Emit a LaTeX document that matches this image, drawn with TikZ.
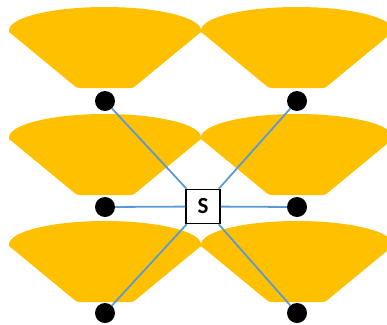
\documentclass[tikz,border=0pt]{standalone}
\usepackage{fontspec}
\newfontfamily\labelfont{Carlito}
\definecolor{fangold}{HTML}{FFC000}
\definecolor{linkblue}{HTML}{5B9BD5}
\tikzset{
  fanfill/.style={fill=fangold},
  fan/.pic={
    % half-ellipse top, straight flanks, flat foot; tips slightly rounded
    \fill[fanfill] (-93.5,27) .. controls (-96,25.5) .. (-96,23.5)
      .. controls (-96,10.5) and (-53,0) .. (0,0)
      .. controls (53,0) and (96,10.5) .. (96,23.5)
      .. controls (96,25.5) .. (93.5,27)
      [rounded corners=2.5pt] -- (28,81) -- (-28,81) [sharp corners] -- cycle;
  },
  dot/.style={circle, fill=black, minimum size=20pt, inner sep=0pt},
  sbox/.style={draw=black, line width=1.5pt, fill=white, minimum size=34pt,
    inner sep=0pt, font=\labelfont\bfseries\fontsize{23}{23}\selectfont},
  link/.style={draw=linkblue, line width=1.8pt}
}
\begin{document}
\begin{tikzpicture}[x=1pt, y=-1pt]
  \useasboundingbox (0,0) rectangle (387,324);
  % six fans in two columns
  \foreach \cx in {105,297}{
    \foreach \ty in {7,114,221}{
      \pic at (\cx,\ty) {fan};
    }
  }
  % terminals
  \node[dot] (tl) at (105,101) {};
  \node[dot] (tr) at (297,101) {};
  \node[dot] (ml) at (105,207) {};
  \node[dot] (mr) at (297,207) {};
  \node[dot] (bl) at (105,313) {};
  \node[dot] (br) at (297,313) {};
  % central switch
  \node[sbox] (s) at (203,206.5) {S};
  % links from the switch to every terminal
  \foreach \t in {tl,tr,ml,mr,bl,br}{
    \draw[link] (s) -- (\t);
  }
\end{tikzpicture}
\end{document}
